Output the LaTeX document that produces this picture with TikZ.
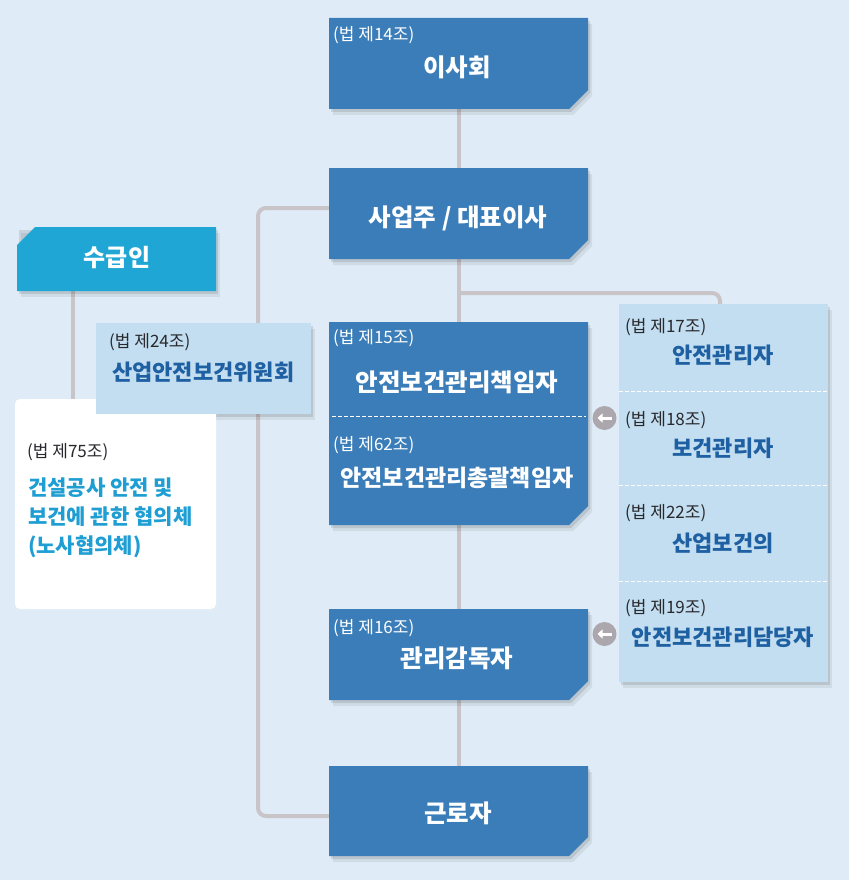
\documentclass[tikz,border=0pt]{standalone}
\usepackage{fontspec}
\setmainfont{Noto Sans CJK KR}
\usetikzlibrary{arrows.meta,calc}
\definecolor{bgc}{RGB}{223,236,247}
\definecolor{dblue}{RGB}{58,125,184}
\definecolor{lblue}{RGB}{194,222,240}
\definecolor{cyanb}{RGB}{31,166,213}
\definecolor{linec}{RGB}{201,196,200}
\definecolor{ptext}{RGB}{31,96,163}
\definecolor{ctext}{RGB}{30,158,210}
\definecolor{stext}{RGB}{40,40,45}
\definecolor{circc}{RGB}{172,167,172}
\newcommand\chamSE[2]{%
  \fill[#2] (#1.north west) -- (#1.north east) -- ([yshift=19pt]#1.south east) -- ([xshift=-19pt]#1.south east) -- (#1.south west) -- cycle;}
\newcommand\shadowSE[1]{%
  \fill[black,opacity=0.10,transform canvas={shift={(2pt,-3pt)}}] (#1.north west) -- (#1.north east) -- ([yshift=19pt]#1.south east) -- ([xshift=-19pt]#1.south east) -- (#1.south west) -- cycle;
  \fill[black,opacity=0.07,transform canvas={shift={(4pt,-6pt)}}] (#1.north west) -- (#1.north east) -- ([yshift=19pt]#1.south east) -- ([xshift=-19pt]#1.south east) -- (#1.south west) -- cycle;}
\newcommand\shadowR[1]{%
  \fill[black,opacity=0.10,transform canvas={shift={(2pt,-3pt)}}] (#1.north west) rectangle (#1.south east);
  \fill[black,opacity=0.07,transform canvas={shift={(4pt,-6pt)}}] (#1.north west) rectangle (#1.south east);}
\tikzset{
  frame/.style n args={2}{inner sep=0pt, outer sep=0pt, minimum width=#1, minimum height=#2},
  conn/.style={draw=linec, line width=4pt, rounded corners=8pt},
  small/.style={font=\fontsize{17}{20}\selectfont, anchor=west, inner sep=0pt},
  wsmall/.style={small, text=white},
  ksmall/.style={small, text=stext},
  wtitle/.style={font=\fontsize{24.5}{28}\selectfont\bfseries, text=white, inner sep=0pt},
  ptitle/.style={font=\fontsize{22}{26}\selectfont\bfseries, text=ptext, inner sep=0pt},
  ctitle/.style={font=\fontsize{21}{25}\selectfont\bfseries, text=ctext, inner sep=0pt, anchor=west},
  wdash/.style={draw=white, line width=0.8pt, dash pattern=on 4pt off 2pt},
  circ/.style={circle, fill=circc, minimum size=24pt, inner sep=0pt},
  arw/.style={draw=white, line width=3pt, -{Triangle[length=5pt,width=9pt]}}
}
\begin{document}
\begin{tikzpicture}[x=1pt,y=-1pt]
\useasboundingbox (0,0) rectangle (849,880);
\fill[bgc] (0,0) rectangle (849,880);
% frames
\node[frame={259pt}{91pt}] (b1) at (458.5,63.5) {};
\node[frame={259pt}{91pt}] (b2) at (458.5,213.5) {};
\node[frame={259pt}{203pt}] (b3) at (458.5,423.5) {};
\node[frame={259pt}{91pt}] (b4) at (458.5,654.5) {};
\node[frame={259pt}{90pt}] (b5) at (458.5,811) {};
\node[frame={199pt}{64pt}] (sub) at (116.5,259) {};
\node[frame={215pt}{91pt}] (com) at (203.5,368.5) {};
\node[frame={201pt}{210pt}] (cou) at (115.5,504) {};
\node[frame={209pt}{378pt}] (rp) at (723.5,493) {};
% connector helper coordinates
\coordinate (jr) at (459,293);
\coordinate (rpt) at (720,304);
\coordinate (lx) at (258,0);
\coordinate (l2) at (329,208);
\coordinate (l5) at (329,816);
\coordinate (sx) at (73,0);
% connectors
\draw[conn] (b1.south) -- (b2.north);
\draw[conn] (b2.south) -- (b3.north);
\draw[conn] (b3.south) -- (b4.north);
\draw[conn] (b4.south) -- (b5.north);
\draw[conn] (jr) -| (rpt);
\draw[conn] (l2) -- (l2 -| lx) -- (l5 -| lx) -- (l5);
\draw[conn] (sub.south -| sx) -- (cou.north -| sx);
% shadows
\shadowSE{b1}\shadowSE{b2}\shadowSE{b3}\shadowSE{b4}\shadowSE{b5}
\shadowR{com}\shadowR{rp}\shadowR{sub}
% boxes
\chamSE{b1}{dblue}
\chamSE{b2}{dblue}
\chamSE{b3}{dblue}
\chamSE{b4}{dblue}
\chamSE{b5}{dblue}
\fill[cyanb] ([yshift=-18pt]sub.north west) -- ([xshift=18pt]sub.north west) -- (sub.north east) -- (sub.south east) -- (sub.south west) -- cycle;
\fill[white, rounded corners=5pt] (cou.north west) rectangle (cou.south east);
\fill[lblue] (com.north west) rectangle (com.south east);
\fill[lblue] (rp.north west) rectangle (rp.south east);
% dashed separators
\draw[wdash] (332,416) -- (586,416);
\draw[wdash] (619,391) -- (828,391);
\draw[wdash] (619,485) -- (828,485);
\draw[wdash] (619,581) -- (828,581);
% arrow circles
\node[circ] (a1) at (604.5,418) {};
\node[circ] (a2) at (604.5,634) {};
\draw[arw] ([xshift=7pt]a1.center) -- ([xshift=-7pt]a1.center);
\draw[arw] ([xshift=7pt]a2.center) -- ([xshift=-7pt]a2.center);
% texts: main column
\node[wsmall] (t1a) at (333,35) {(법 제14조)};
\node[wtitle] (t1) at (457,67) {이사회};
\node[wtitle] (t2) at (458,218) {사업주 / 대표이사};
\node[wsmall] (t3a) at (333,338) {(법 제15조)};
\node[wtitle] (t3) at (457,382) {안전보건관리책임자};
\node[wsmall] (t3b) at (333,445) {(법 제62조)};
\node[wtitle, font=\fontsize{23}{27}\selectfont\bfseries] (t3c) at (457,478) {안전보건관리총괄책임자};
\node[wsmall] (t4a) at (333,628) {(법 제16조)};
\node[wtitle] (t4) at (457,658) {관리감독자};
\node[wtitle] (t5) at (458,813) {근로자};
% left
\node[wtitle, font=\fontsize{24}{28}\selectfont\bfseries] (ts) at (117,258) {수급인};
\node[ksmall] (tca) at (109,342) {(법 제24조)};
\node[ptitle, anchor=west] (tc) at (112,372) {산업안전보건위원회};
\node[ksmall] (tka) at (27,452) {(법 제75조)};
\node[ctitle] (tk1) at (28,488) {건설공사 안전 및};
\node[ctitle] (tk2) at (28,517) {보건에 관한 협의체};
\node[ctitle] (tk3) at (28,547) {(노사협의체)};
% right panel
\node[ksmall] (r1a) at (625,327) {(법 제17조)};
\node[ptitle] (r1) at (723,355) {안전관리자};
\node[ksmall] (r2a) at (625,420) {(법 제18조)};
\node[ptitle] (r2) at (723,448) {보건관리자};
\node[ksmall] (r3a) at (625,513) {(법 제22조)};
\node[ptitle] (r3) at (723,543) {산업보건의};
\node[ksmall] (r4a) at (625,608) {(법 제19조)};
\node[ptitle] (r4) at (723,637) {안전보건관리담당자};
\end{tikzpicture}
\end{document}
